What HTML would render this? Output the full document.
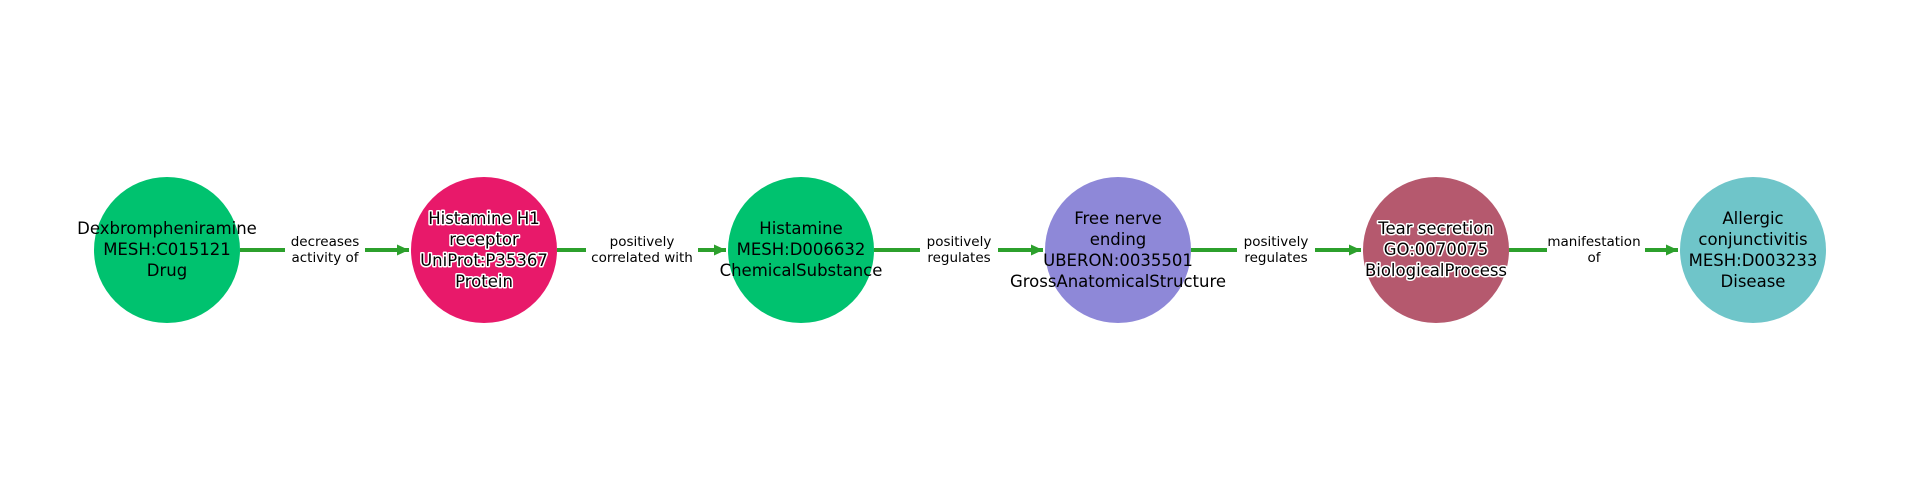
<!DOCTYPE html>
<html><head><meta charset="utf-8"><style>
html,body{margin:0;padding:0;background:#fff;width:1920px;height:500px;overflow:hidden}
text{font-family:"DejaVu Sans","Liberation Sans",sans-serif}
.n{font-size:16.5px;fill:#000;text-anchor:middle}
.h{fill:#000;stroke:#fff;stroke-width:3px;paint-order:stroke;stroke-linejoin:round}
.e{font-size:13.5px;fill:#000;text-anchor:middle}
</style></head><body>
<svg width="1920" height="500" xmlns="http://www.w3.org/2000/svg">
<defs><marker id="a" markerWidth="13" markerHeight="12" refX="12" refY="6" orient="auto" markerUnits="userSpaceOnUse"><path d="M0,0.5 L12,6 L0,11.5 z" fill="#2ca02c"/></marker></defs>
<g stroke="#2ca02c" stroke-width="4" fill="none">
<line x1="240" y1="250" x2="409" y2="250" marker-end="url(#a)"/>
<line x1="557" y1="250" x2="726" y2="250" marker-end="url(#a)"/>
<line x1="874" y1="250" x2="1043" y2="250" marker-end="url(#a)"/>
<line x1="1191" y1="250" x2="1361" y2="250" marker-end="url(#a)"/>
<line x1="1508" y1="250" x2="1678" y2="250" marker-end="url(#a)"/>
</g>
<g fill="#fff">
<rect x="285" y="232" width="80" height="36"/>
<rect x="586" y="232" width="112" height="36"/>
<rect x="920" y="232" width="78" height="36"/>
<rect x="1237" y="232" width="78" height="36"/>
<rect x="1547" y="232" width="98" height="36"/>
</g>
<g class="e">
<text x="325" y="246">decreases</text><text x="325" y="262">activity of</text>
<text x="642" y="246">positively</text><text x="642" y="262">correlated with</text>
<text x="959" y="246">positively</text><text x="959" y="262">regulates</text>
<text x="1276" y="246">positively</text><text x="1276" y="262">regulates</text>
<text x="1594" y="246">manifestation</text><text x="1594" y="262">of</text>
</g>
<circle cx="167" cy="250" r="73" fill="#00c26f"/>
<circle cx="484" cy="250" r="73" fill="#e8196a"/>
<circle cx="801" cy="250" r="73" fill="#00c26f"/>
<circle cx="1118" cy="250" r="73" fill="#8e88d8"/>
<circle cx="1436" cy="250" r="73" fill="#b5596e"/>
<circle cx="1753" cy="250" r="73" fill="#6fc5c9"/>
<g class="n">
<text x="167" y="234">Dexbrompheniramine</text><text x="167" y="255">MESH:C015121</text><text x="167" y="276">Drug</text>
<text class="n h" x="484" y="224">Histamine H1</text><text class="n h" x="484" y="245">receptor</text><text class="n h" x="484" y="266">UniProt:P35367</text><text class="n h" x="484" y="287">Protein</text>
<text x="801" y="234">Histamine</text><text x="801" y="255">MESH:D006632</text><text x="801" y="276">ChemicalSubstance</text>
<text x="1118" y="224">Free nerve</text><text x="1118" y="245">ending</text><text x="1118" y="266">UBERON:0035501</text><text x="1118" y="287">GrossAnatomicalStructure</text>
<text class="n h" x="1436" y="234">Tear secretion</text><text class="n h" x="1436" y="255">GO:0070075</text><text class="n h" x="1436" y="276">BiologicalProcess</text>
<text x="1753" y="224">Allergic</text><text x="1753" y="245">conjunctivitis</text><text x="1753" y="266">MESH:D003233</text><text x="1753" y="287">Disease</text>
</g>
</svg>
</body></html>
